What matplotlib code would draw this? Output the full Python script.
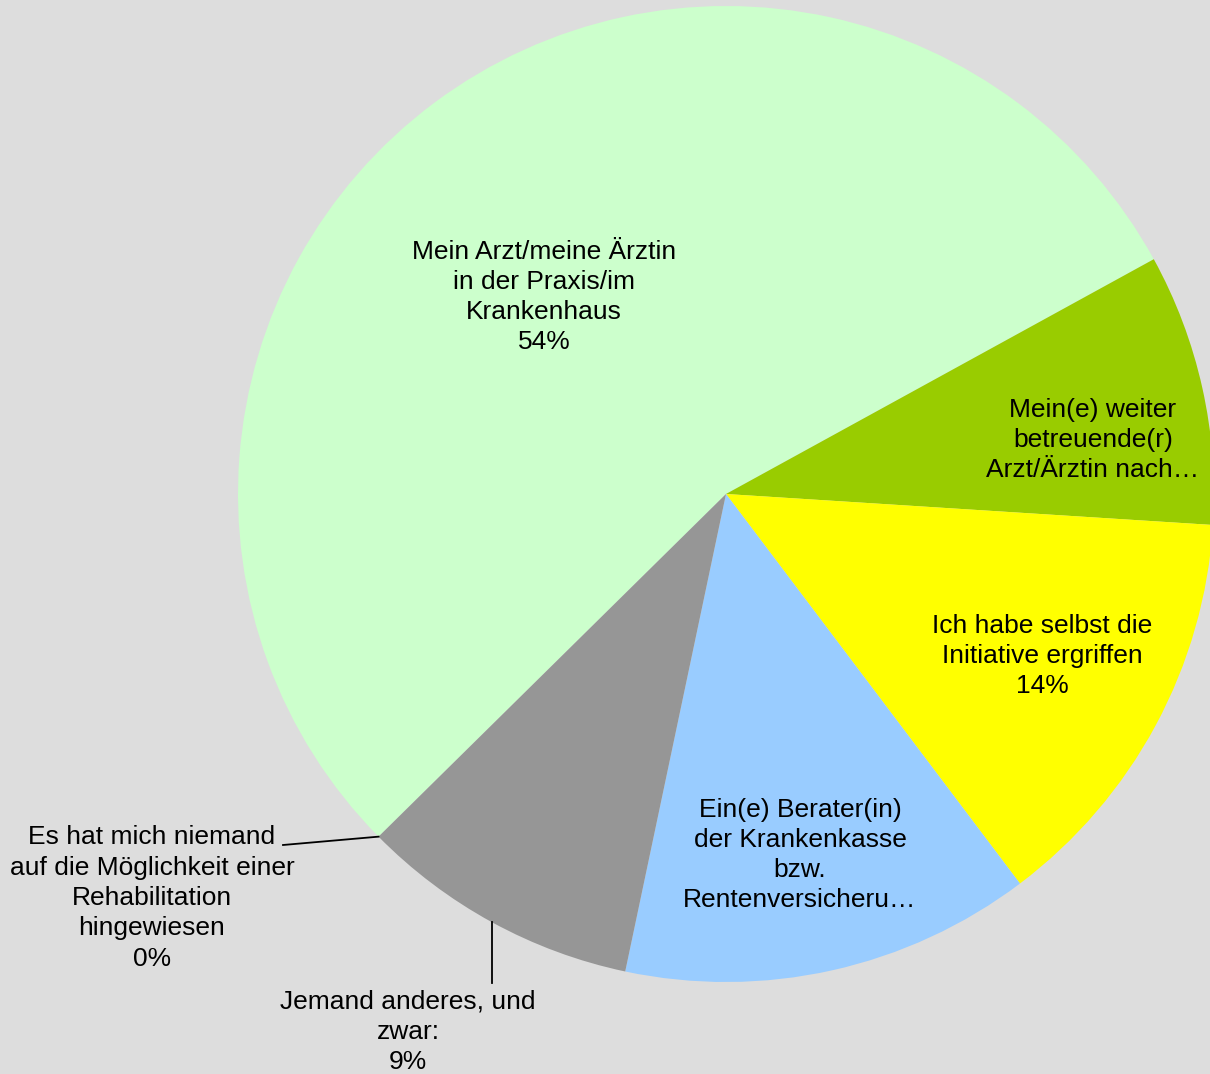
import numpy as np
import matplotlib
matplotlib.use('Agg')
import matplotlib.pyplot as plt

# Data
categories = [
    'Mein Arzt/meine Ärztin\nin der Praxis/im\nKrankenhaus',
    'Mein(e) weiter\nbetreuende(r)\nArzt/Ärztin nach…',
    'Ich habe selbst die\nInitiative ergriffen',
    'Ein(e) Berater(in)\nder Krankenkasse\nbzw.\nRentenversicheru…',
    'Jemand anderes, und\nzwar:',
    'Es hat mich niemand\nauf die Möglichkeit einer\nRehabilitation\nhingewiesen',
]
shares = [54.4, 9.0, 13.7, 13.6, 9.3, 0.0]
showPercent = [True, False, True, False, True, True]
colors = ['#CCFFCC', '#99CC00', '#FFFF00', '#99CCFF', '#969696', '#969696']

# label anchor positions (pixels, from top left)
labelPos = [(544, 297), (1093, 440), (1042, 656), (800, 855), (408, 1032), (152, 898)]

W, H = 1210, 1074
bg = '#DDDDDD'
plt.rcParams['font.family'] = ['Liberation Sans', 'DejaVu Sans']

fig = plt.figure(figsize=(W / 100, H / 100), dpi=100, facecolor=bg)
ax = fig.add_axes([0, 0, 1, 1])
ax.set_facecolor(bg)

cx, cy, r = 726, H - 494, 488
wedges, _ = ax.pie(shares, colors=colors, startangle=224.6, counterclock=False,
                   center=(cx, cy), radius=r, wedgeprops=dict(linewidth=0))
ax.set_xlim(0, W)
ax.set_ylim(0, H)
ax.set_aspect('equal')
ax.axis('off')

# labels
for i, (w, cat) in enumerate(zip(wedges, categories)):
    txt = cat
    if showPercent[i]:
        txt = cat + '\n' + f'{shares[i]:.0f}%'
    x, y = labelPos[i]
    ax.text(x, H - y, txt, ha='center', va='center', fontsize=19,
            linespacing=1.33, color='black')

# leader lines for the outside labels
g = wedges[4]
mid = np.deg2rad((g.theta1 + g.theta2) / 2)
ex, ey = cx + r * np.cos(mid), cy + r * np.sin(mid)
ax.plot([ex, ex], [ey, H - 983], color='black', lw=1.3)

n = wedges[5]
a = np.deg2rad(n.theta1)
ex, ey = cx + r * np.cos(a), cy + r * np.sin(a)
ax.plot([ex, 283], [ey, H - 845], color='black', lw=1.3)

plt.savefig('out.png', dpi=100, facecolor=bg)
